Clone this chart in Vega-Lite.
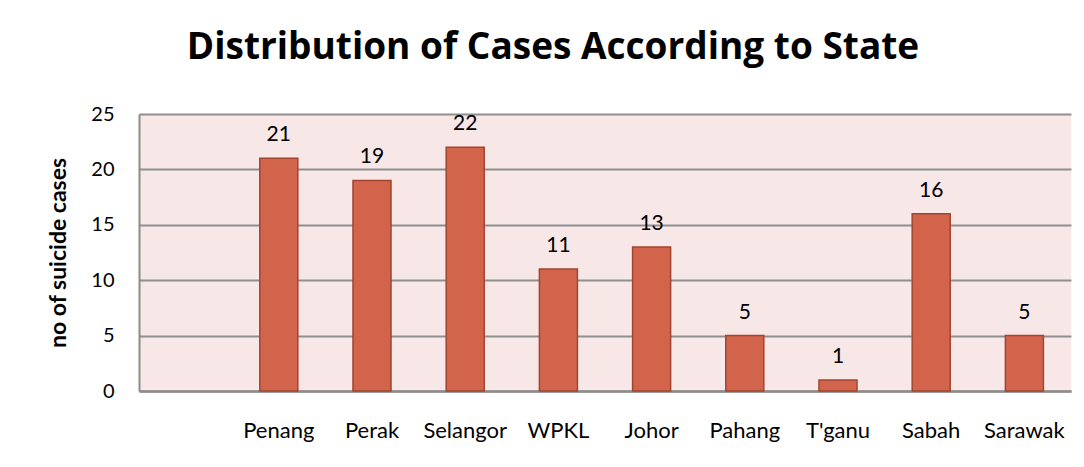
{
  "$schema": "https://vega.github.io/schema/vega-lite/v6.json",
  "autosize": "none",
  "width": 932,
  "height": 277,
  "padding": {"left": 139, "top": 114, "right": 13, "bottom": 76},
  "background": "white",
  "title": {
    "text": "Distribution of Cases According to State",
    "font": "Open Sans",
    "fontSize": 37,
    "fontWeight": "bold",
    "color": "#000000",
    "anchor": "middle",
    "baseline": "alphabetic",
    "dx": -52,
    "offset": 8
  },
  "config": {
    "view": {"fill": "#f7e7e6", "stroke": null},
    "font": "Lato"
  },
  "data": {
    "values": [
      {"state": "Penang", "cases": 21},
      {"state": "Perak", "cases": 19},
      {"state": "Selangor", "cases": 22},
      {"state": "WPKL", "cases": 11},
      {"state": "Johor", "cases": 13},
      {"state": "Pahang", "cases": 5},
      {"state": "T'ganu", "cases": 1},
      {"state": "Sabah", "cases": 16},
      {"state": "Sarawak", "cases": 5}
    ]
  },
  "encoding": {
    "x": {
      "field": "state",
      "type": "nominal",
      "sort": null,
      "scale": {
        "domain": [" ", "Penang", "Perak", "Selangor", "WPKL", "Johor", "Pahang", "T'ganu", "Sabah", "Sarawak"],
        "paddingInner": 0.592,
        "paddingOuter": 0.296
      },
      "axis": {
        "title": null,
        "labelAngle": 0,
        "labelFont": "Lato",
        "labelFontSize": 22,
        "labelColor": "#000000",
        "labelPadding": 29,
        "ticks": false,
        "domainColor": "#8c8c8c",
        "domainWidth": 2.5,
        "grid": false
      }
    },
    "y": {
      "field": "cases",
      "type": "quantitative",
      "scale": {"domain": [0, 25], "nice": false},
      "axis": {
        "title": "no of suicide cases",
        "titleFont": "Lato",
        "titleFontSize": 23,
        "titleFontWeight": "bold",
        "titleColor": "#000000",
        "titlePadding": 20,
        "values": [0, 5, 10, 15, 20, 25],
        "labelFont": "Lato",
        "labelFontSize": 20,
        "labelColor": "#000000",
        "labelPadding": 25,
        "ticks": false,
        "domainColor": "#8c8c8c",
        "domainWidth": 2,
        "grid": true,
        "gridColor": "#8f8f8f",
        "gridWidth": 2
      }
    }
  },
  "layer": [
    {
      "mark": {"type": "bar", "color": "#d2644c", "stroke": "#a3442f", "strokeWidth": 1.5}
    },
    {
      "mark": {"type": "text", "baseline": "alphabetic", "dy": -17, "fontSize": 21, "font": "Lato", "color": "#000000"},
      "encoding": {"text": {"field": "cases", "type": "quantitative"}}
    }
  ]
}
